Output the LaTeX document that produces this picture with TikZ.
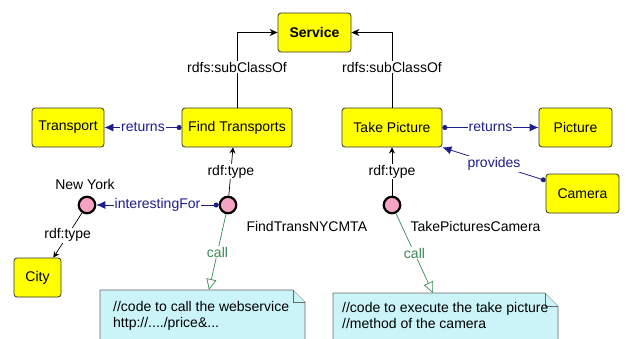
\documentclass[tikz,border=0pt]{standalone}
\usepackage{fontspec}
\setmainfont{Liberation Sans}
\usetikzlibrary{arrows.meta}
\definecolor{boxyellow}{HTML}{FFFF00}
\definecolor{instpink}{HTML}{F4A3C2}
\definecolor{notecyan}{HTML}{CBF4F8}
\definecolor{relblue}{HTML}{1E1E8A}
\definecolor{callgreen}{HTML}{3A8A55}
\begin{document}
\begin{tikzpicture}[x=1pt,y=-1pt,
    every node/.style={font=\fontsize{14}{16}\selectfont},
    class/.style={draw=black!80,fill=boxyellow,rounded corners=3pt,
      minimum height=39pt,inner sep=0pt,line width=0.8pt},
    inst/.style={circle,draw=black,line width=2.2pt,fill=instpink,
      minimum size=16.5pt,inner sep=0pt},
    lbl/.style={fill=white,inner sep=1pt},
    subcls/.style={-{Stealth[length=8pt,width=7pt]},line width=0.7pt},
    typ/.style={-{Stealth[length=6pt,width=6pt]},line width=0.7pt},
    rel/.style={relblue,{Circle[length=5pt]}-{Latex[length=9pt,width=8pt]},line width=0.8pt},
    call/.style={callgreen,-{Triangle[open,length=11pt,width=10pt,fill=white]},line width=0.7pt},
    notebox/.style={draw=black!60,fill=notecyan,line width=0.6pt}]
  \clip (0,0) rectangle (630,338);
  \fill[white] (0,0) rectangle (630,338);

  % classes
  \node[class,minimum width=73pt,font=\fontsize{14}{16}\selectfont\bfseries] (service) at (314.5,32.5) {Service};
  \node[class,minimum width=72pt] (transport) at (68,127.5) {Transport};
  \node[class,minimum width=110pt] (findtr) at (237,127.5) {Find Transports};
  \node[class,minimum width=100pt] (takepic) at (392,127.5) {Take Picture};
  \node[class,minimum width=73pt] (picture) at (575.5,127.5) {Picture};
  \node[class,minimum width=73pt] (camera) at (582.5,193.5) {Camera};
  \node[class,minimum width=47pt] (city) at (37.5,277.5) {City};

  % instances
  \node[inst] (newyork) at (87,205) {};
  \node[inst] (ftnyc) at (228,205) {};
  \node[inst] (tpcam) at (392,205) {};
  \node (nylbl) at (85,184) {New York};
  \node[anchor=west] (ftlbl) at (243,226) {FindTransNYCMTA};
  \node[anchor=west] (tplbl) at (407,226) {TakePicturesCamera};

  % notes
  \draw[notebox] (100,290) -- (293,290) -- (305,302) -- (305,345) -- (100,345) -- cycle;
  \draw[notebox] (293,290) |- (305,302);
  \node[anchor=north west,align=left,inner sep=0pt] (code1) at (113,301)
    {//code to call the webservice\\http://..../price\&...};
  \draw[notebox] (333,293) -- (545,293) -- (558,306) -- (558,345) -- (333,345) -- cycle;
  \draw[notebox] (545,293) |- (558,306);
  \node[anchor=north west,align=left,inner sep=0pt] (code2) at (342,302)
    {//code to execute the take picture\\//method of the camera};
  \coordinate (note1top) at (209,290);
  \coordinate (note2top) at (433,293);

  % subclass edges
  \draw[subcls] (findtr.north) |- node[lbl,pos=0.27] (sub1) {rdfs:subClassOf} (service.west);
  \draw[subcls] (takepic.north) |- node[lbl,pos=0.27] (sub2) {rdfs:subClassOf} (service.east);

  % properties
  \draw[rel] (findtr.west) -- node[lbl,text=relblue] (ret1) {returns} (transport.east);
  \draw[rel] (takepic.east) -- node[lbl,text=relblue] (ret2) {returns} (picture.west);
  \draw[rel] ([yshift=-7pt]camera.north west) -- node[lbl,text=relblue] (prov) {provides} (takepic.south east);
  \draw[rel] (ftnyc.west) -- node[lbl,text=relblue] (intfor) {interestingFor} (newyork.east);

  % types
  \draw[typ] (ftnyc) -- node[lbl] (ty1) {rdf:type} ([xshift=-4pt]findtr.south);
  \draw[typ] (tpcam) -- node[lbl] (ty2) {rdf:type} (takepic.south);
  \draw[typ] (newyork) -- node[lbl] (ty3) {rdf:type} ([xshift=-8pt]city.north east);

  % calls
  \draw[call] (ftnyc) -- node[lbl,text=callgreen] (call1) {call} (note1top);
  \draw[call] (tpcam) -- node[lbl,text=callgreen] (call2) {call} (note2top);
\end{tikzpicture}
\end{document}
